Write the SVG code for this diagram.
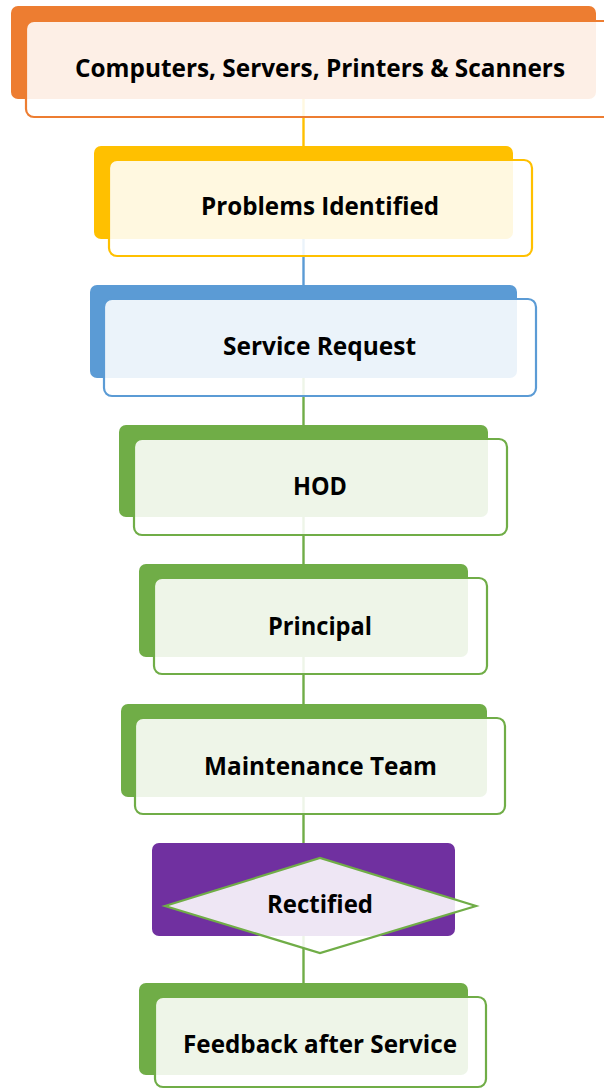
<svg xmlns="http://www.w3.org/2000/svg" width="604" height="1089" viewBox="0 0 604 1089">
<style>
.back{stroke:none}
.front{fill:#ffffff;fill-opacity:0.88;stroke-width:2.2}
.lbl{font-family:"Open Sans","Liberation Sans",sans-serif;font-weight:700;font-size:25px;fill:#000000;text-anchor:middle}
.conn{stroke-width:2.4;fill:none}
.o{fill:#ED7D31}.os{stroke:#ED7D31}
.y{fill:#FFC000}.ys{stroke:#FFC000}
.b{fill:#5B9BD5}.bs{stroke:#5B9BD5}
.g{fill:#70AD47}.gs{stroke:#70AD47}
.p{fill:#7030A0}
</style>
<rect width="604" height="1089" fill="#ffffff"/>
<g id="connectors">
<line class="conn ys" x1="303.5" y1="99" x2="303.5" y2="146"/>
<line class="conn bs" x1="303.5" y1="239" x2="303.5" y2="285"/>
<line class="conn gs" x1="303.5" y1="378" x2="303.5" y2="425"/>
<line class="conn gs" x1="303.5" y1="517" x2="303.5" y2="564"/>
<line class="conn gs" x1="303.5" y1="657" x2="303.5" y2="704"/>
<line class="conn gs" x1="303.5" y1="797" x2="303.5" y2="843"/>
<line class="conn gs" x1="303.5" y1="936" x2="303.5" y2="983"/>
</g>
<g id="node-computers">
<rect class="back o" x="11" y="6" width="585" height="93" rx="7"/>
<rect class="front os" x="26" y="21" width="590" height="96" rx="8"/>
<text class="lbl" x="320" y="77" font-size="23.5" textLength="490" lengthAdjust="spacingAndGlyphs">Computers, Servers, Printers &amp; Scanners</text>
</g>
<g id="node-problems">
<rect class="back y" x="94" y="146" width="419" height="93" rx="7"/>
<rect class="front ys" x="109" y="160" width="423" height="96" rx="8"/>
<text class="lbl" x="320" y="215" textLength="238" lengthAdjust="spacingAndGlyphs">Problems Identified</text>
</g>
<g id="node-service">
<rect class="back b" x="90" y="285" width="427" height="93" rx="7"/>
<rect class="front bs" x="104" y="299" width="432" height="97" rx="8"/>
<text class="lbl" x="319.5" y="355" textLength="193" lengthAdjust="spacingAndGlyphs">Service Request</text>
</g>
<g id="node-hod">
<rect class="back g" x="119" y="425" width="369" height="92" rx="7"/>
<rect class="front gs" x="134" y="439" width="373" height="96" rx="8"/>
<text class="lbl" x="320" y="495" textLength="54" lengthAdjust="spacingAndGlyphs">HOD</text>
</g>
<g id="node-principal">
<rect class="back g" x="139" y="564" width="329" height="93" rx="7"/>
<rect class="front gs" x="154" y="578" width="333" height="96" rx="8"/>
<text class="lbl" x="320" y="635" textLength="104" lengthAdjust="spacingAndGlyphs">Principal</text>
</g>
<g id="node-maintenance">
<rect class="back g" x="121" y="704" width="366" height="93" rx="7"/>
<rect class="front gs" x="135" y="718" width="370" height="96" rx="8"/>
<text class="lbl" x="320.5" y="775" textLength="233" lengthAdjust="spacingAndGlyphs">Maintenance Team</text>
</g>
<g id="node-rectified">
<rect class="back p" x="152" y="843" width="303" height="93" rx="7"/>
<polygon class="front gs" points="165,906 320,858 476,906 320,953"/>
<text class="lbl" x="320" y="913" textLength="106" lengthAdjust="spacingAndGlyphs">Rectified</text>
</g>
<g id="node-feedback">
<rect class="back g" x="139" y="983" width="329" height="92" rx="7"/>
<rect class="front gs" x="155" y="997" width="331" height="90" rx="8"/>
<text class="lbl" x="320" y="1053" textLength="274" lengthAdjust="spacingAndGlyphs">Feedback after Service</text>
</g>
</svg>
